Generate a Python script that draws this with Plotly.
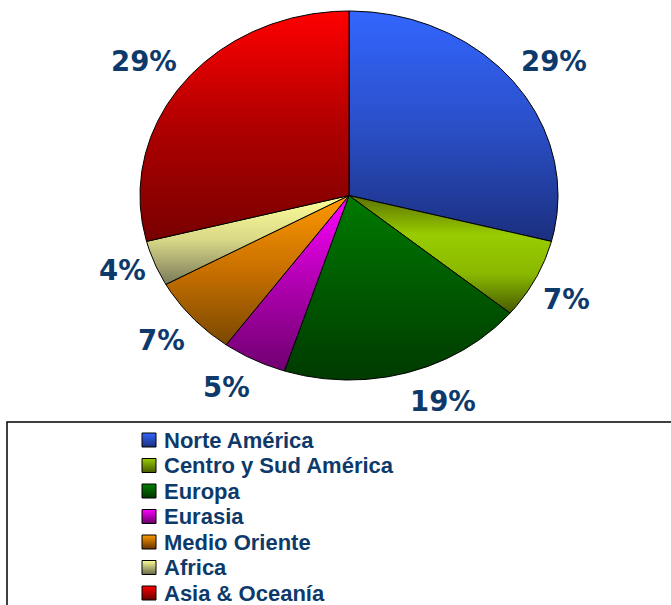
import numpy as np
import plotly.graph_objects as go

# ---- data ----
categories = ["Norte América", "Centro y Sud América", "Europa", "Eurasia",
              "Medio Oriente", "Africa", "Asia & Oceanía"]
values = [29, 7, 19, 5, 7, 4, 29]

# ---- styles (gradient colours listed top -> bottom) ----
slice_gradients = [
    ["#3366FF", "#2A4FC8", "#1B2F7E"],
    ["#5A7000", "#99CC00", "#8AB800", "#465A00"],
    ["#007A00", "#005A00", "#003A00"],
    ["#FF00FF", "#B000B0", "#700070"],
    ["#FF9900", "#C87000", "#7A4800"],
    ["#FFFF99", "#D8D888", "#7A7A5A"],
    ["#FF0000", "#B00000", "#780000"],
]
legend_top = ["#3366FF", "#99CC00", "#008000", "#FF00FF", "#FF9900", "#FFFF99", "#FF0000"]
legend_bottom = ["#1B2F7E", "#465A00", "#003300", "#660066", "#663300", "#66664A", "#660000"]
text_color = "#0E3A6B"
legend_font = "Arial, Liberation Sans, sans-serif"
label_font = "DejaVu Sans, Arial, sans-serif"
label_size = 27.5

W, H = 671, 605
cx, cy, rx, ry = 349, 195.5, 209, 184.5
gap_x, gap_y = 9, 17
# offsets from annotation box edge to glyph ink (DejaVu metrics)
top_pad = (0.928 - 0.729) * label_size + 1
bot_pad = 0.236 * label_size + 1
side_pad = 2

fig = go.Figure()

total = sum(values)
cum = 0.0
annotations = []
for name, v, grad in zip(categories, values, slice_gradients):
    a0 = cum / total * 2 * np.pi
    a1 = (cum + v) / total * 2 * np.pi
    cum += v
    t = np.linspace(a0, a1, max(8, int(v * 6)))
    xs = np.concatenate([[cx], cx + rx * np.sin(t), [cx]])
    ys = np.concatenate([[cy], cy - ry * np.cos(t), [cy]])
    g = list(reversed(grad))  # colourscale runs from bottom of screen upward
    n = len(g)
    cs = [[i / (n - 1), c] for i, c in enumerate(g)]
    fig.add_trace(go.Scatter(
        x=xs, y=ys, mode="lines", fill="toself",
        fillgradient=dict(type="vertical", colorscale=cs),
        line=dict(color="black", width=1),
        hoverinfo="skip", showlegend=False,
    ))
    m = (a0 + a1) / 2
    s, c = np.sin(m), np.cos(m)
    px = cx + (rx + gap_x) * s
    py = cy - (ry + gap_y) * c
    if s > 0.15:
        xa, px = "left", px - side_pad
    elif s < -0.15:
        xa, px = "right", px + side_pad
    else:
        xa = "center"
    if c > 0.4:
        ya, py = "bottom", py + bot_pad
    elif c < -0.4:
        ya, py = "top", py - top_pad
    else:
        ya = "middle"
    annotations.append(dict(
        x=px, y=py, xref="x", yref="y", text=f"{v}%", showarrow=False,
        xanchor=xa, yanchor=ya,
        font=dict(family=label_font, size=label_size, color=text_color, weight="bold"),
    ))

# ---- legend (drawn) ----
leg_x_sq, leg_x_txt, leg_y0, leg_dy = 149, 162, 440, 25.5
leg_y = [leg_y0 + i * leg_dy for i in range(len(categories))]
fig.add_trace(go.Scatter(
    x=[leg_x_sq] * len(categories), y=leg_y, mode="markers",
    marker=dict(symbol="square", size=14, color=legend_top,
                gradient=dict(type="vertical", color=legend_bottom),
                line=dict(color="black", width=1)),
    hoverinfo="skip", showlegend=False,
))
for name, yv in zip(categories, leg_y):
    annotations.append(dict(
        x=leg_x_txt, y=yv, xref="x", yref="y", text=name, showarrow=False,
        xanchor="left", yanchor="middle",
        font=dict(family=legend_font, size=22, color=text_color, weight="bold"),
    ))

fig.add_shape(type="rect", xref="x", yref="y", x0=7, x1=720, y0=422, y1=720,
              line=dict(color="black", width=1.5), layer="below")

fig.update_layout(
    width=W, height=H, margin=dict(l=0, r=0, t=0, b=0),
    paper_bgcolor="white", plot_bgcolor="white",
    xaxis=dict(range=[0, W], visible=False, fixedrange=True),
    yaxis=dict(range=[H, 0], visible=False, fixedrange=True),
    annotations=annotations, showlegend=False,
)
fig.write_html("out.html", config={"displayModeBar": False},
               post_script="document.body.style.margin='0';document.body.style.overflow='hidden';")
